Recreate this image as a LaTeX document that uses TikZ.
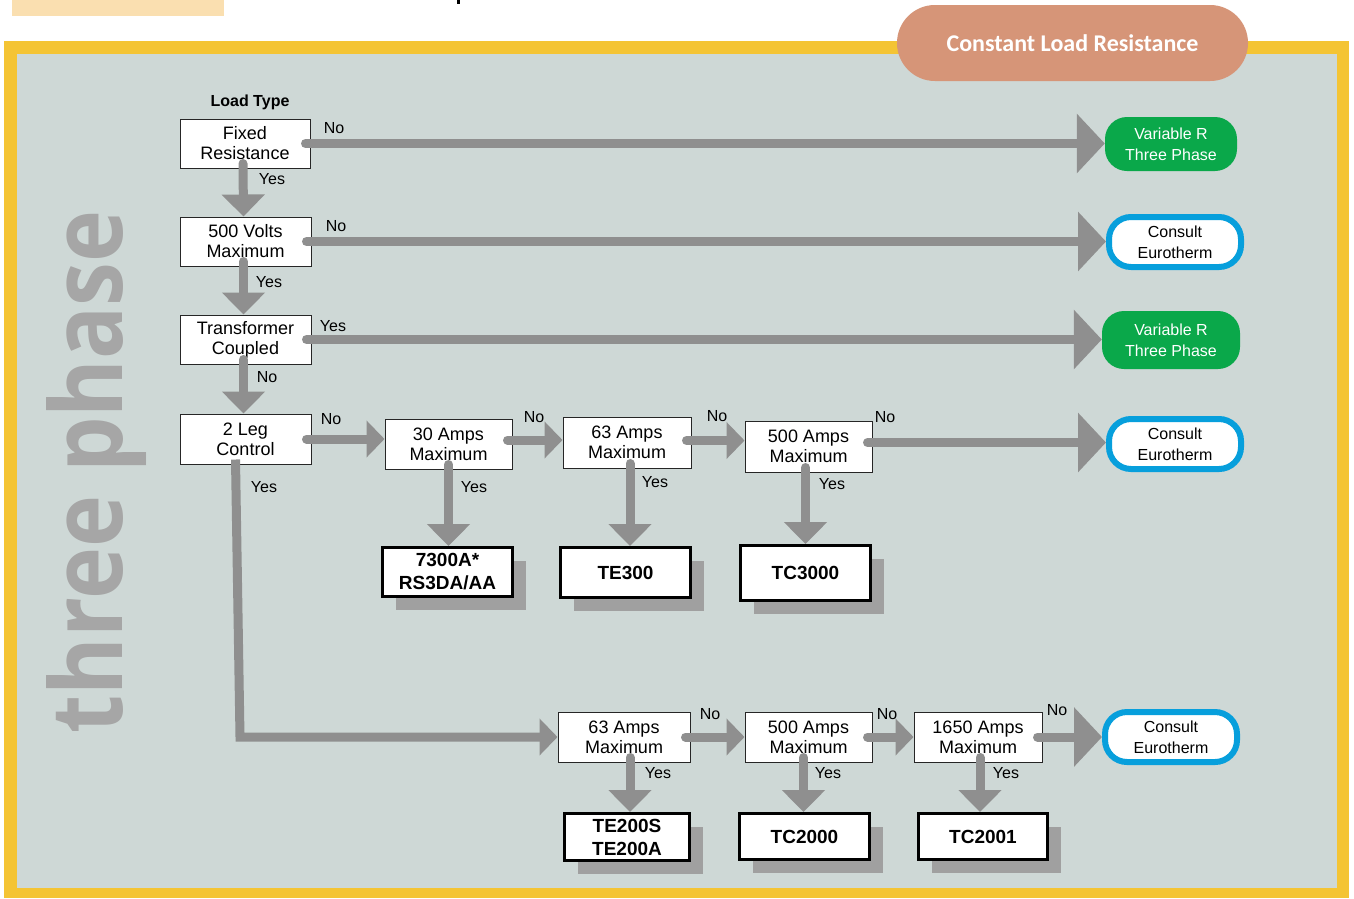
\documentclass[tikz,border=0pt]{standalone}
\usepackage{fontspec}
\setmainfont{Liberation Sans}
\newfontfamily\hdrfont{Carlito}
\newfontfamily\wmfont{Open Sans}
\usetikzlibrary{arrows.meta,shadows}
\definecolor{frameY}{HTML}{F4C434}
\definecolor{panel}{HTML}{CED8D6}
\definecolor{conncol}{HTML}{8F8F8F}
\definecolor{greenT}{HTML}{0AA84A}
\definecolor{blueT}{HTML}{079FDC}
\definecolor{hdr}{HTML}{D69578}
\definecolor{tabc}{HTML}{FADFB0}
\definecolor{shadowc}{HTML}{A0A0A0}
\definecolor{wm}{HTML}{A6A6A6}
\begin{document}
\begin{tikzpicture}[x=1pt,y=-1pt,
  dec/.style={draw=black!85, line width=1pt, fill=white, align=center, inner sep=0pt,
    font=\fontsize{18}{20}\selectfont},
  prod/.style={draw=black, line width=3pt, fill=white, align=center, inner sep=0pt,
    font=\bfseries\fontsize{19}{23}\selectfont,
    drop shadow={shadow xshift=13pt, shadow yshift=-13pt, fill=shadowc, opacity=1}},
  termg/.style={fill=greenT, text=white, rounded corners=22pt, align=center, inner sep=0pt,
    minimum width=132pt, minimum height=54pt, font=\fontsize{16}{21}\selectfont},
  termb/.style={draw=blueT, line width=6pt, fill=white, rounded corners=22pt, align=center, inner sep=0pt,
    minimum width=132pt, minimum height=50pt, font=\fontsize{16}{21}\selectfont},
  lbl/.style={inner sep=0pt, font=\fontsize{16}{18}\selectfont},
  conn/.style={draw=conncol, line width=9pt, line cap=round},
  bigtip/.style={conn, -{Triangle[length=28pt,width=58pt]}},
  smalltip/.style={conn, -{Triangle[length=18pt,width=36pt]}},
  downtip/.style={conn, -{Triangle[length=22pt,width=42pt]}},
]
\useasboundingbox (0,0) rectangle (1354,898);
\fill[white] (0,0) rectangle (1354,898);
% top fragments
\fill[tabc] (12,0) rectangle (224,16);
\fill[black] (457,0) rectangle (460,4);
% frame
\fill[frameY] (4,41) rectangle (1349,898);
\fill[panel] (17,54) rectangle (1337,888);
% header pill
\node[fill=hdr, rounded corners=37.9pt, minimum width=351pt, minimum height=76pt, inner sep=0pt,
  text=white, font=\hdrfont\bfseries\fontsize{24}{26}\selectfont] (hdr) at (1072.5,43) {Constant Load Resistance};
% watermark
\node[rotate=90, anchor=base, text=wm, inner sep=0pt, font=\wmfont\bfseries\fontsize{100}{110}\selectfont] (wmk) at (122,472) {\scalebox{0.88}[1]{three phase}};

% title
\node[inner sep=0pt, font=\bfseries\fontsize{16}{18}\selectfont] (lt) at (250,102) {Load Type};

% decision boxes
\node[dec, minimum width=130pt, minimum height=49pt] (fr) at (245,143.5) {Fixed\\Resistance};
\node[dec, minimum width=131pt, minimum height=49pt] (v5) at (245.5,241.5) {500 Volts\\Maximum};
\node[dec, minimum width=131pt, minimum height=49pt] (tc) at (245.5,339.5) {Transformer\\Coupled};
\node[dec, minimum width=131pt, minimum height=50pt] (leg) at (245.5,439) {2 Leg\\Control};
\node[dec, minimum width=127pt, minimum height=50pt] (a30) at (448.5,444) {30 Amps\\Maximum};
\node[dec, minimum width=128pt, minimum height=51pt] (a63) at (627,442.5) {63 Amps\\Maximum};
\node[dec, minimum width=127pt, minimum height=51pt] (a500) at (808.5,446.5) {500 Amps\\Maximum};
\node[dec, minimum width=132pt, minimum height=50pt] (b63) at (624,737) {63 Amps\\Maximum};
\node[dec, minimum width=127pt, minimum height=50pt] (b500) at (808.5,737) {500 Amps\\Maximum};
\node[dec, minimum width=128pt, minimum height=50pt] (b1650) at (978,737) {1650 Amps\\Maximum};

% product boxes
\node[prod, minimum width=130pt, minimum height=49pt] (p7300) at (447.5,572) {7300A*\\RS3DA/AA};
\node[prod, minimum width=130pt, minimum height=50pt] (pte300) at (625.5,572.5) {TE300};
\node[prod, minimum width=130pt, minimum height=55pt] (ptc3000) at (805.5,573) {TC3000};
\node[prod, minimum width=125pt, minimum height=47pt] (pte200) at (627,837) {TE200S\\TE200A};
\node[prod, minimum width=130pt, minimum height=46pt] (ptc2000) at (804.5,836.5) {TC2000};
\node[prod, minimum width=129pt, minimum height=46pt] (ptc2001) at (983,836.5) {TC2001};

% terminals
\node[termg] (t1) at (1171,144) {Variable R\\Three Phase};
\node[termb] (t2) at (1175,242) {Consult\\Eurotherm};
\node[termg, minimum width=138pt, minimum height=58pt] (t3) at (1171,340) {Variable R\\Three Phase};
\node[termb] (t4) at (1175,444) {Consult\\Eurotherm};
\node[termb] (t5) at (1171,737) {Consult\\Eurotherm};

% connectors
\draw[bigtip] ([xshift=-5pt]fr.east) -- (fr.east -| t1.west);
\draw[bigtip] ([xshift=-5pt]v5.east) -- (v5.east -| t2.west);
\draw[bigtip] ([xshift=-5pt]tc.east) -- (tc.east -| t3.west);
\draw[downtip] ([xshift=-2pt,yshift=5pt]fr.south) -- ([xshift=-2pt]v5.north);
\draw[downtip] ([xshift=-2pt,yshift=5pt]v5.south) -- ([xshift=-2pt]tc.north);
\draw[downtip] ([xshift=-2pt,yshift=5pt]tc.south) -- ([xshift=-2pt]leg.north);

\draw[smalltip] ([xshift=-5pt]leg.east) -- (leg.east -| a30.west);
\draw[smalltip] ([xshift=-5pt,yshift=4pt]a30.east) -- ([yshift=4pt]a30.east -| a63.west);
\draw[smalltip] ([xshift=-5pt,yshift=2pt]a63.east) -- ([yshift=2pt]a63.east -| a500.west);
\draw[bigtip] ([xshift=-5pt,yshift=4pt]a500.east) -- ([yshift=4pt]a500.east -| t4.west);

\draw[downtip] ([yshift=5pt]a30.south) -- (a30.south |- p7300.north);
\draw[downtip] ([xshift=3pt,yshift=5pt]a63.south) -- ([xshift=3pt]a63.south |- pte300.north);
\draw[downtip] ([xshift=-3pt,yshift=5pt]a500.south) -- ([xshift=-3pt]a500.south |- ptc3000.north);

\coordinate (bend) at (240,737);
\draw[smalltip, line cap=butt] ([xshift=-10pt,yshift=5pt]leg.south) -- (bend) -- (b63.west);

\draw[smalltip] ([xshift=-5pt]b63.east) -- (b63.east -| b500.west);
\draw[smalltip] ([xshift=-5pt]b500.east) -- (b500.east -| b1650.west);
\draw[bigtip] ([xshift=-5pt]b1650.east) -- (b1650.east -| t5.west);

\draw[downtip] ([xshift=6pt,yshift=5pt]b63.south) -- ([xshift=6pt]b63.south |- pte200.north);
\draw[downtip] ([xshift=-5pt,yshift=5pt]b500.south) -- ([xshift=-5pt]b500.south |- ptc2000.north);
\draw[downtip] ([xshift=2pt,yshift=5pt]b1650.south) -- ([xshift=2pt]b1650.south |- ptc2001.north);

% labels
\node[lbl] (l1) at (334,128) {No};
\node[lbl] (l2) at (272,179) {Yes};
\node[lbl] (l3) at (336,226) {No};
\node[lbl] (l4) at (269,282) {Yes};
\node[lbl] (l5) at (333,326) {Yes};
\node[lbl] (l6) at (267,377) {No};
\node[lbl] (l7) at (331,419) {No};
\node[lbl] (l8) at (264,487) {Yes};
\node[lbl] (l9) at (534,417) {No};
\node[lbl] (l10) at (717,416) {No};
\node[lbl] (l11) at (885,417) {No};
\node[lbl] (l12) at (474,487) {Yes};
\node[lbl] (l13) at (655,482) {Yes};
\node[lbl] (l14) at (832,484) {Yes};
\node[lbl] (l15) at (710,714) {No};
\node[lbl] (l16) at (887,714) {No};
\node[lbl] (l17) at (1057,710) {No};
\node[lbl] (l18) at (658,773) {Yes};
\node[lbl] (l19) at (828,773) {Yes};
\node[lbl] (l20) at (1006,773) {Yes};
\end{tikzpicture}
\end{document}
